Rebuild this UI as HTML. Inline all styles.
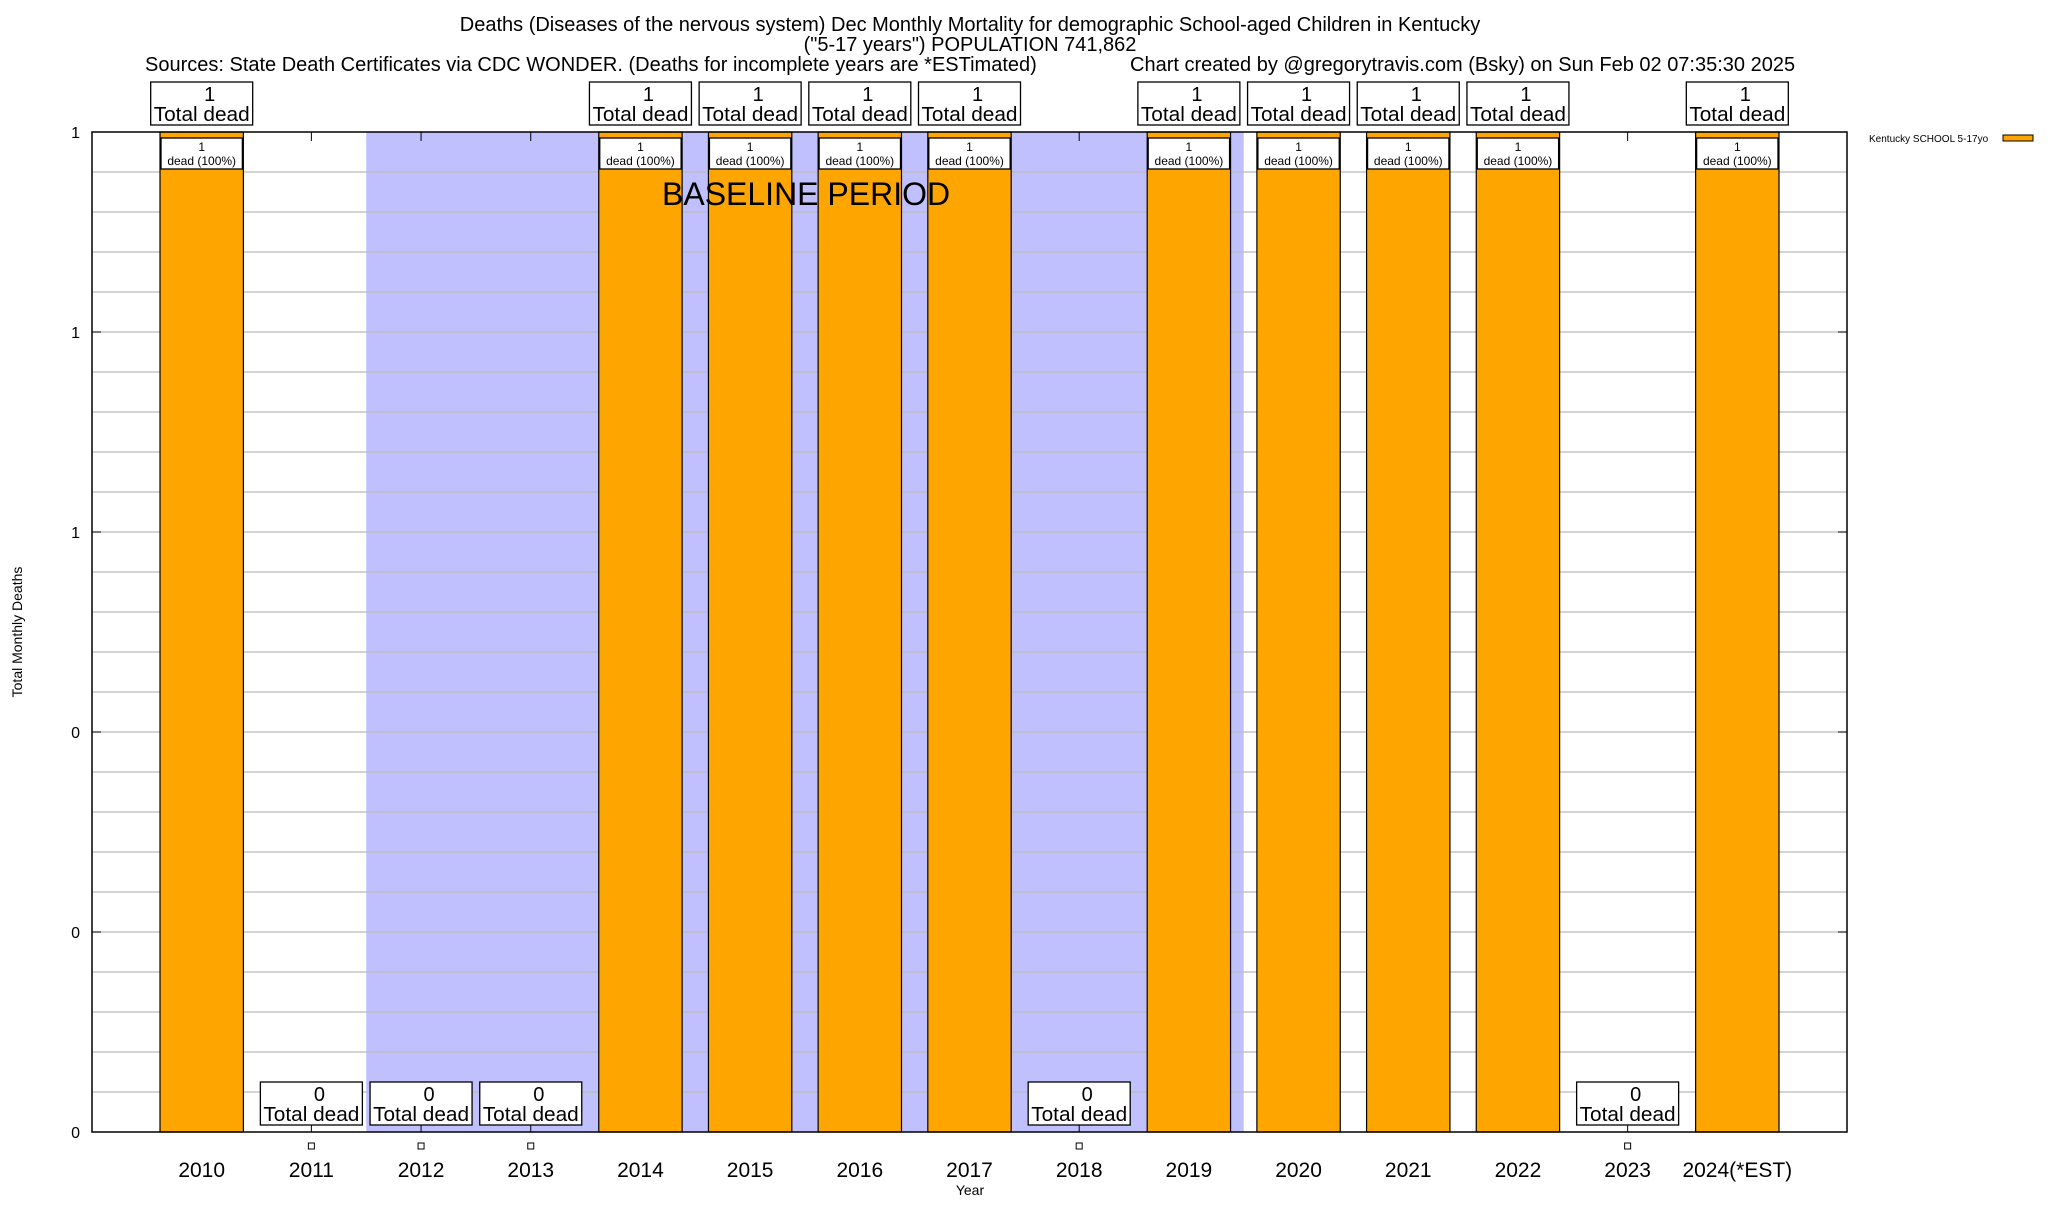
<!DOCTYPE html>
<html><head><meta charset="utf-8"><style>
body{margin:0;background:#fff;}
svg text{font-family:"Liberation Sans",sans-serif;fill:#000;}
</style></head><body>
<svg id="chart" width="2048" height="1200" xmlns="http://www.w3.org/2000/svg">
<g id="bg"></g><g id="grid"></g><g id="bars"></g><g id="labels"></g>
<text x="970" y="31" font-size="20" text-anchor="middle">Deaths (Diseases of the nervous system) Dec Monthly Mortality for demographic School-aged Children in Kentucky</text>
<text x="970" y="51" font-size="20" text-anchor="middle">("5-17 years") POPULATION 741,862</text>
<text x="145" y="71" font-size="20">Sources: State Death Certificates via CDC WONDER. (Deaths for incomplete years are *ESTimated)</text>
<text x="1130" y="71" font-size="20">Chart created by @gregorytravis.com (Bsky) on Sun Feb 02 07:35:30 2025</text>
<text x="662" y="205" font-size="32">BASELINE PERIOD</text>
<text transform="translate(22,632) rotate(-90)" font-size="14" text-anchor="middle">Total Monthly Deaths</text>
<text x="970" y="1195" font-size="14" text-anchor="middle">Year</text>
<text x="1869" y="142" font-size="10">Kentucky SCHOOL 5-17yo</text>
<rect x="2003" y="135" width="30" height="6" fill="#ffa500" stroke="#000" stroke-width="1"/>
</svg>
<script>
const categories=["2010","2011","2012","2013","2014","2015","2016","2017","2018","2019","2020","2021","2022","2023","2024(*EST)"];
const deaths=[1,0,0,0,1,1,1,1,0,1,1,1,1,0,1];
const pctLabels=["100%","","","","100%","100%","100%","100%","","100%","100%","100%","100%","","100%"];
const yTickValues=[0,0.2,0.4,0.6,0.8,1];
const yTickLabels=["0","0","0","1","1","1"];
const baseline=[2011.5,2019.5];
const NS="http://www.w3.org/2000/svg";
const L=92,R=1847,T=132,B=1132,slot=(R-L)/16;
const xPos=i=>L+(i+1)*slot;
const xYear=y=>xPos(y-2010);
const yPos=v=>B-(v/1)*(B-T);
function mk(tag,attrs,parent){const e=document.createElementNS(NS,tag);for(const k in attrs)e.setAttribute(k,attrs[k]);document.getElementById(parent)?document.getElementById(parent).appendChild(e):parent.appendChild(e);return e;}
const svg=document.getElementById('chart');
let sh=mk('rect',{x:xYear(baseline[0]),y:T,width:xYear(baseline[1])-xYear(baseline[0]),height:B-T,fill:'#c0c0ff'},'bg');


for(let k=1;k<25;k++){const v=k*0.04;
 const g=mk('line',{x1:L,x2:R,y1:yPos(v),y2:yPos(v),stroke:'#bbb','stroke-width':1.3},'grid');
 
 }
yTickValues.forEach((v,i)=>{
 const t=mk('text',{x:L-12,y:yPos(v)+6,'font-size':16,'text-anchor':'end'},'labels');t.textContent=yTickLabels[i];
 
 
 mk('line',{x1:L,x2:L+9,y1:yPos(v),y2:yPos(v),stroke:'#000'},'grid');
 mk('line',{x1:R,x2:R-9,y1:yPos(v),y2:yPos(v),stroke:'#000'},'grid');
});
const bw=slot*0.76;
categories.forEach((c,i)=>{
 const cx=xPos(i);
 mk('line',{x1:cx,x2:cx,y1:B,y2:B-9,stroke:'#000'},'grid');
 mk('line',{x1:cx,x2:cx,y1:T,y2:T+9,stroke:'#000'},'grid');
 const yl=mk('text',{x:cx,y:1177,'font-size':21,'text-anchor':'middle'},'labels');yl.textContent=c;
 
 
 const v=deaths[i];
 if(v>0){
  const b=mk('rect',{x:cx-bw/2,y:yPos(v),width:bw,height:B-yPos(v),fill:'#ffa500',stroke:'#000','stroke-width':1.2},'bars');
  
  
  const ib=mk('rect',{x:cx-bw/2+1,y:yPos(v)+6,width:bw-2,height:31,fill:'#fff',stroke:'#000','stroke-width':1.3},'labels');
  
  
  const t1=mk('text',{x:cx,y:yPos(v)+19,'font-size':12,'text-anchor':'middle'},'labels');t1.textContent=v;
  const t2=mk('text',{x:cx,y:yPos(v)+33,'font-size':12,'text-anchor':'middle'},'labels');t2.textContent='dead ('+pctLabels[i]+')';
 } else {
  const m=mk('rect',{x:cx-3,y:1143,width:6,height:6,fill:'#fff',stroke:'#000','stroke-width':1},'labels');
  
  
 }
 const by=v>0?82:1082;
 const box=mk('rect',{x:cx-51,y:by,width:102,height:43,fill:'#fff',stroke:'#000','stroke-width':1.3},'labels');
 
 
 const a=mk('text',{x:cx+8,y:by+19,'font-size':20,'text-anchor':'middle'},'labels');a.textContent=v;
 const b2=mk('text',{x:cx,y:by+39,'font-size':20,'text-anchor':'middle',textLength:96,lengthAdjust:'spacingAndGlyphs'},'labels');b2.textContent='Total dead';
});
const fr=mk('rect',{x:L,y:T,width:R-L,height:B-T,fill:'none',stroke:'#000','stroke-width':1.5},svg);


</script>
</body></html>
